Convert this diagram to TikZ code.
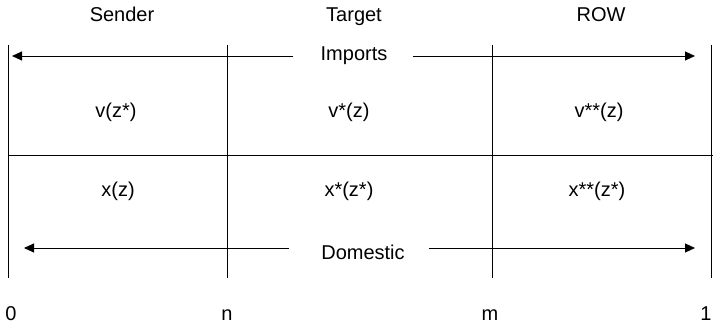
\documentclass[tikz,border=0pt]{standalone}
\usepackage{fontspec}
\setmainfont{Liberation Sans}
\usetikzlibrary{arrows.meta}
\begin{document}
\begin{tikzpicture}[x=1pt,y=-1pt,
  lbl/.style={font=\fontsize{20}{24}\selectfont, inner sep=0pt, anchor=base},
  rule/.style={line width=0.9pt, draw=black},
  flow/.style={line width=0.9pt, draw=black, -{Triangle[length=10pt,width=9pt]}}]
  \useasboundingbox (0,0) rectangle (713,326);

  % grid: column borders and the row divider
  \coordinate (c0t) at (8,45);   \coordinate (c0b) at (8,278);
  \coordinate (c1t) at (227,45); \coordinate (c1b) at (227,278);
  \coordinate (c2t) at (492,45); \coordinate (c2b) at (492,278);
  \coordinate (c3t) at (711,45); \coordinate (c3b) at (711,278);
  \coordinate (rl) at (8,155);   \coordinate (rr) at (713,155);
  \draw[rule] (c0t) -- (c0b);
  \draw[rule] (c1t) -- (c1b);
  \draw[rule] (c2t) -- (c2b);
  \draw[rule] (c3t) -- (c3b);
  \draw[rule] (rl) -- (rr);

  % column headings
  \node[lbl] (sender) at (122,22) {Sender};
  \node[lbl] (target) at (354,22) {Target};
  \node[lbl] (row)    at (601,22) {ROW};

  % imports flow
  \node[lbl] (imports) at (354,61) {Imports};
  \coordinate (impL0) at (293,56); \coordinate (impL1) at (12,56);
  \coordinate (impR0) at (413,56); \coordinate (impR1) at (695,56);
  \draw[flow] (impL0) -- (impL1);
  \draw[flow] (impR0) -- (impR1);

  % upper row
  \node[lbl] (v0) at (116,118) {v(z*)};
  \node[lbl] (v1) at (349,118) {v*(z)};
  \node[lbl] (v2) at (599,118) {v**(z)};

  % lower row
  \node[lbl] (x0) at (118,197) {x(z)};
  \node[lbl] (x1) at (349,197) {x*(z*)};
  \node[lbl] (x2) at (597,197) {x**(z*)};

  % domestic flow
  \node[lbl] (domestic) at (363,259) {Domestic};
  \coordinate (domL0) at (289,248); \coordinate (domL1) at (24,248);
  \coordinate (domR0) at (429,248); \coordinate (domR1) at (695,248);
  \draw[flow] (domL0) -- (domL1);
  \draw[flow] (domR0) -- (domR1);

  % axis marks
  \node[lbl] (p0) at (11,320)  {0};
  \node[lbl] (pn) at (227,320) {n};
  \node[lbl] (pm) at (490,320) {m};
  \node[lbl] (p1) at (706,320) {1};
\end{tikzpicture}
\end{document}
